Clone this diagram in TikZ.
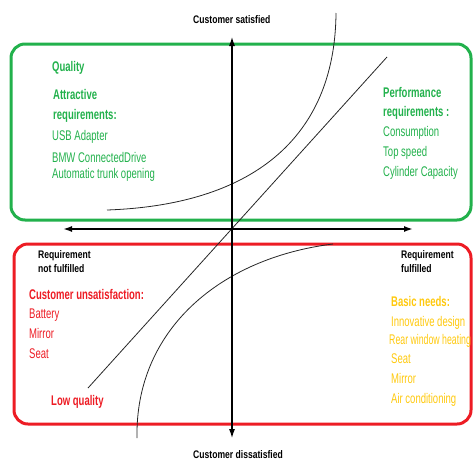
\documentclass[tikz,border=0pt]{standalone}
\usepackage{fontspec}
\setmainfont{Liberation Sans}
\newfontfamily\itemfont{Liberation Sans}[FakeStretch=0.68]
\newfontfamily\axisfont{Liberation Sans}[FakeStretch=0.78]
\usetikzlibrary{arrows.meta}
\definecolor{kgreen}{RGB}{34,177,76}
\definecolor{kred}{RGB}{237,28,36}
\definecolor{kyellow}{RGB}{255,201,14}
\tikzset{
  itm/.style={anchor=base west,inner sep=0pt,font=\itemfont\fontsize{14}{14}\selectfont},
  hd/.style={anchor=base west,inner sep=0pt,font=\itemfont\bfseries\fontsize{14}{14}\selectfont},
  lbl/.style={anchor=base west,inner sep=0pt,font=\axisfont\bfseries\fontsize{11}{11}\selectfont},
  zone/.style={line width=3pt,rounded corners=14pt},
  curve/.style={line width=0.8pt,black!85},
  axis/.style={{Latex[length=9pt,width=6pt]}-{Latex[length=9pt,width=6pt]}}
}
\begin{document}
\begin{tikzpicture}[x=1pt,y=-1pt]
\useasboundingbox (0,0) rectangle (473,461);
% zones
\draw[zone,kgreen](11,44) rectangle (471,220);
\draw[zone,kred](14,244) rectangle (471,424);
% axis ends
\coordinate(N)at(232,37);
\coordinate(S)at(232,438);
\coordinate(W)at(63,229);
\coordinate(E)at(413,229);
% attractive and performance
\node[hd,kgreen](Q)at(52,71){Quality};
\node[hd,kgreen](A1)at(53,99){Attractive};
\node[hd,kgreen](A2)at(53,119){requirements:};
\node[itm,kgreen](A3)at(52,140){USB Adapter};
\node[itm,kgreen](A4)at(52,162){BMW ConnectedDrive};
\node[itm,kgreen](A5)at(52,178){Automatic trunk opening};
\node[hd,kgreen](P1)at(383,97){Performance};
\node[hd,kgreen](P2)at(383,116){requirements :};
\node[itm,kgreen](P3)at(383,136){Consumption};
\node[itm,kgreen](P4)at(383,156){Top speed};
\node[itm,kgreen](P5)at(383,176){Cylinder Capacity};
% dissatisfaction and basic needs
\node[hd,kred](U1)at(29,299){Customer unsatisfaction:};
\node[itm,kred](U2)at(29,318){Battery};
\node[itm,kred](U3)at(29,338){Mirror};
\node[itm,kred](U4)at(29,358){Seat};
\node[hd,kred](L)at(51,405){Low quality};
\node[hd,kyellow](B1)at(391,306){Basic needs:};
\node[itm,kyellow](B2)at(391,326){Innovative design};
\node[itm,kyellow,xscale=0.92](B3)at(389,344){Rear window heating};
\node[itm,kyellow](B4)at(391,363){Seat};
\node[itm,kyellow](B5)at(391,383){Mirror};
\node[itm,kyellow](B6)at(391,403){Air conditioning};
% axis labels
\node[lbl](CS)at(193,23){Customer satisfied};
\node[lbl](CD)at(193,458){Customer dissatisfied};
\node[lbl](RN)at(38,258){Requirement};
\node[lbl](RN2)at(38,272){not fulfilled};
\node[lbl](RF)at(401,258){Requirement};
\node[lbl](RF2)at(401,272){fulfilled};
% curves
\coordinate(D1)at(88,388);\coordinate(D2)at(387,57);
\draw[curve](D1)--(D2);
\draw[curve](107,210)..controls(250,205)and(335,140)..(336,13);
\draw[curve](137,438)..controls(135,330)and(220,258)..(333,244);
% axes
\draw[axis,line width=1.1pt](S)--(N);
\draw[axis,line width=1.6pt](W)--(E);
\end{tikzpicture}
\end{document}
